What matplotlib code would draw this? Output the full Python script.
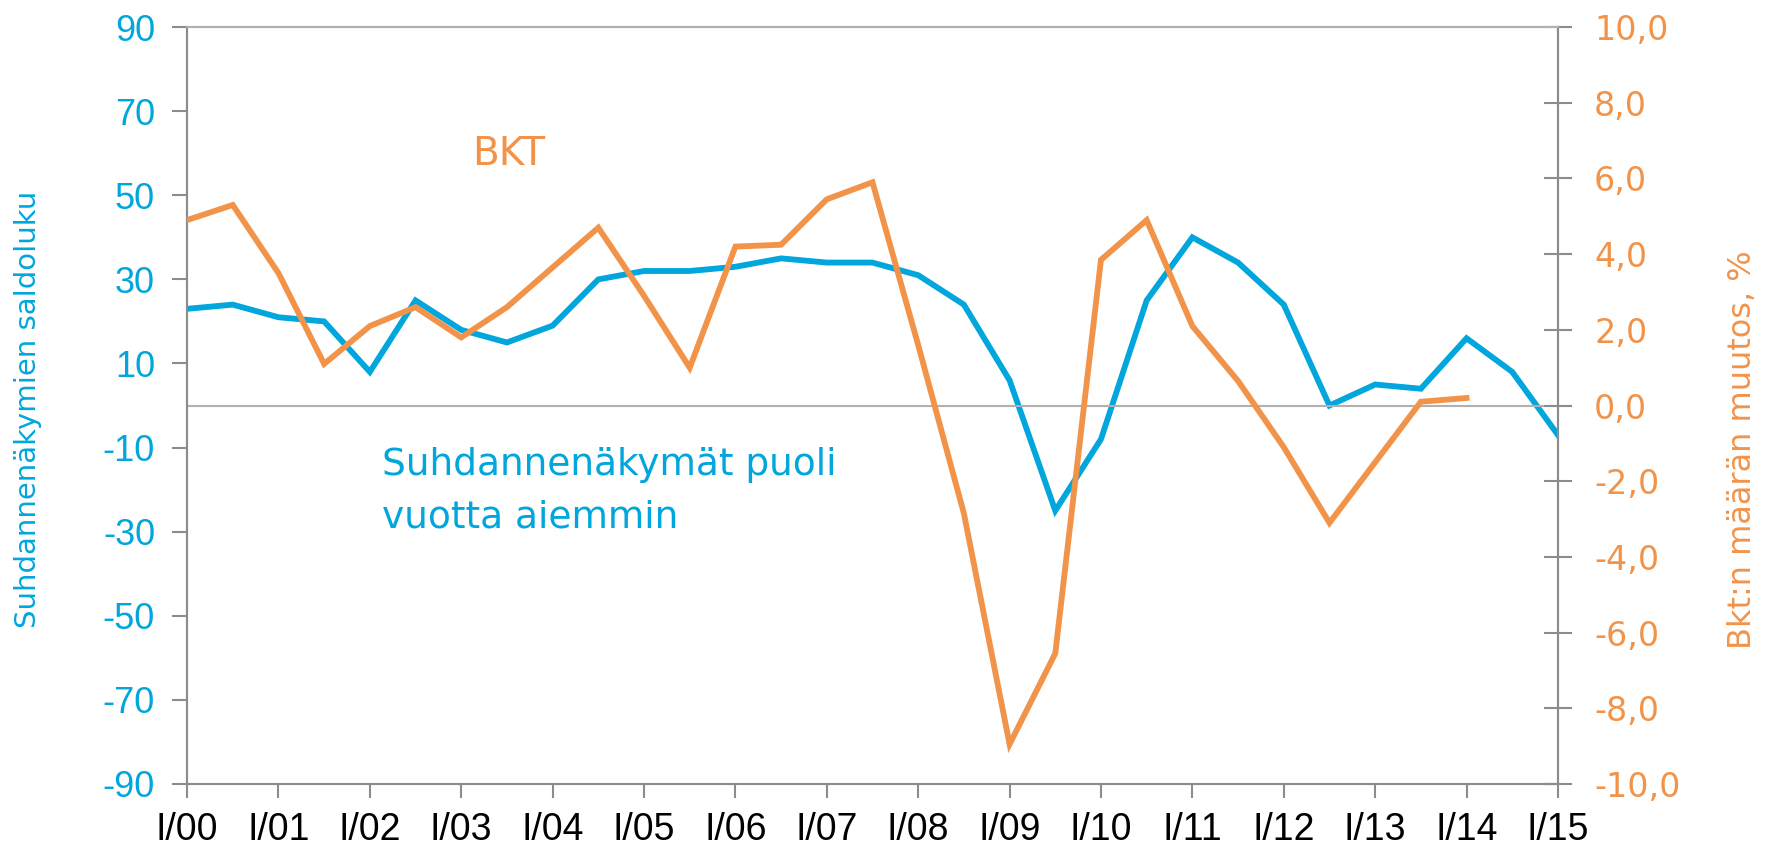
import matplotlib
matplotlib.use("Agg")
import matplotlib.pyplot as plt
from matplotlib.ticker import FixedLocator, FuncFormatter

# ---- data ----
periods = [2000 + 0.5 * i for i in range(31)]  # half-year points
outlook = [23, 24, 21, 20, 8, 25, 18, 15, 19, 30, 32, 32, 33, 35, 34, 34,
           31, 24, 6, -25, -8, 25, 40, 34, 24, 0, 5, 4, 16, 8, -7]
gdp = [4.9, 5.3, 3.5, 1.1, 2.1, 2.6, 1.8, 2.6, 3.65, 4.7, 2.9, 1.0, 4.2, 4.25,
       5.45, 5.9, 1.6, -2.85, -8.95, -6.55, 3.85, 4.9, 2.1, 0.65, -1.1, -3.1,
       -1.5, 0.1, 0.2]
gdp_periods = periods[:len(gdp)]
xtick_pos = list(range(2000, 2016))
xtick_labels = ["I/%02d" % (y % 100) for y in xtick_pos]
left_ticks = list(range(-90, 91, 20))
right_ticks = list(range(-10, 11, 2))

BLUE = "#00A6DC"
ORANGE = "#F2934A"
GRAY = "#8C8C8C"

plt.rcParams['font.family'] = ['DejaVu Sans']
plt.rcParams['axes.unicode_minus'] = False

fig = plt.figure(figsize=(17.73, 8.47), dpi=100)
ax = fig.add_axes([0.1055, 0.0744, 0.7732, 0.8936])
ax2 = ax.twinx()

ax.plot(periods, outlook, color=BLUE, lw=4.2, solid_joinstyle='miter', zorder=3)
ax2.plot(gdp_periods, gdp, color=ORANGE, lw=4.2, solid_joinstyle='miter', zorder=3)
ax2.axhline(0, color="#B0B0B0", lw=1.5, zorder=1)

ax.set_xlim(2000, 2015)
ax.set_ylim(-90, 90)
ax2.set_ylim(-10, 10)

ax.yaxis.set_major_locator(FixedLocator(left_ticks))
ax.yaxis.set_major_formatter(FuncFormatter(lambda v, p: "%d" % v))
ax2.yaxis.set_major_locator(FixedLocator(right_ticks))
ax2.yaxis.set_major_formatter(FuncFormatter(lambda v, p: ("%.1f" % v).replace(".", ",")))
ax.set_xticks(xtick_pos)
ax.set_xticklabels(xtick_labels, family=['Liberation Sans', 'DejaVu Sans'], fontsize=27)
for lab in ax.get_yticklabels():
    lab.set_family(['Liberation Sans', 'DejaVu Sans'])

for s in ['left', 'right', 'top', 'bottom']:
    ax.spines[s].set_color(GRAY)
    ax.spines[s].set_linewidth(1.5)
    ax2.spines[s].set_color(GRAY)
    ax2.spines[s].set_linewidth(1.5)
ax.spines['top'].set_color("#B0B0B0")
ax2.spines['top'].set_color("#B0B0B0")

ax.tick_params(axis='y', colors=GRAY, labelcolor=BLUE, labelsize=26, length=11, width=1.5, direction='out', pad=12)
ax.tick_params(axis='x', colors=GRAY, labelcolor='black', length=10, width=1.5, direction='out', pad=10)
ax2.tick_params(axis='y', colors=GRAY, labelcolor=ORANGE, labelsize=24, length=20, width=1.5, direction='inout', pad=16)

ax.set_ylabel("Suhdannenäkymien saldoluku", color=BLUE, fontsize=21)
ax.yaxis.set_label_coords(-0.106, 0.495)
ax2.set_ylabel("Bkt:n määrän muutos, %", color=ORANGE, fontsize=23)
ax2.yaxis.set_label_coords(1.1233, 0.442)

ax.text(2003.12, 57.2, "BKT", color=ORANGE, fontsize=28, ha='left', va='baseline')
ax.text(2002.13, -16.5, "Suhdannenäkymät puoli", color=BLUE, fontsize=27, ha='left', va='baseline')
ax.text(2002.13, -28.9, "vuotta aiemmin", color=BLUE, fontsize=27, ha='left', va='baseline')

fig.savefig("out.png", dpi=100)
